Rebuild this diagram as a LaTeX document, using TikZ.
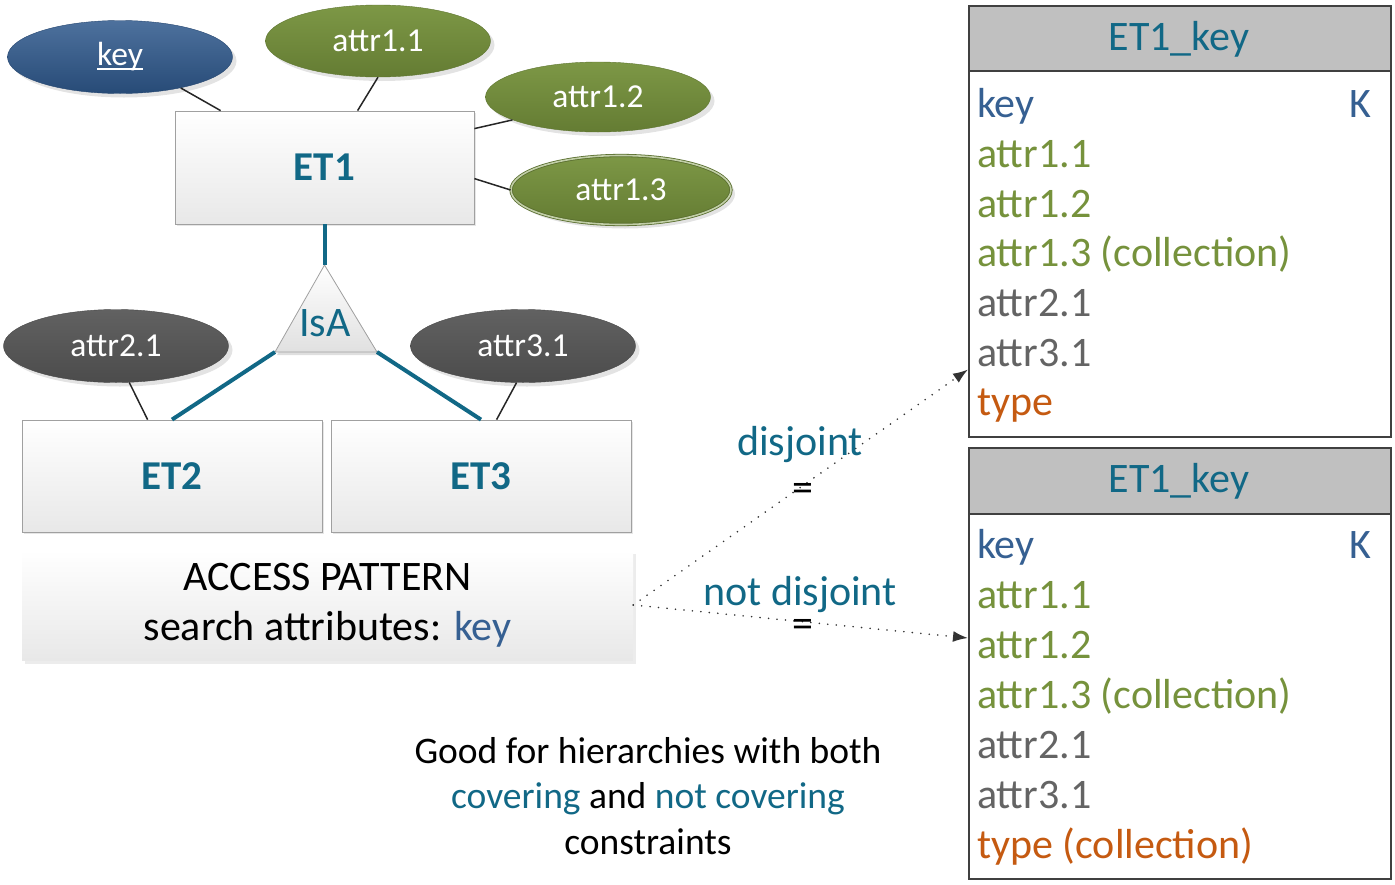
\documentclass[tikz,border=0pt]{standalone}
\usepackage{fontspec}
\setmainfont{Carlito}
\usetikzlibrary{shapes.geometric,shadows,arrows.meta,calc}
\definecolor{teal1}{RGB}{17,104,134}
\definecolor{keyblue}{RGB}{46,88,140}
\definecolor{txtblue}{RGB}{54,96,146}
\definecolor{olive1}{RGB}{118,146,60}
\definecolor{darkg}{RGB}{89,89,89}
\definecolor{txtgray}{RGB}{100,100,100}
\definecolor{orange1}{RGB}{197,90,17}
\definecolor{hdrgray}{RGB}{192,192,192}
\definecolor{boxline}{RGB}{160,160,160}
\newcommand\myul[1]{\setbox0\hbox{#1}\rlap{\rule[-4pt]{\wd0}{1.6pt}}\box0}
\begin{document}
\begin{tikzpicture}[x=1pt,y=-1pt,
  attr/.style={ellipse, inner sep=0pt, minimum width=225pt, minimum height=73pt,
    text=white, font=\fontsize{33.5}{40}\selectfont,
    drop shadow={shadow xshift=4pt,shadow yshift=-4pt,opacity=0.22}},
  keyattr/.style={attr, top color=keyblue!85!white, bottom color=keyblue!85!black, draw=keyblue!80!black},
  grnattr/.style={attr, top color=olive1!95!white, bottom color=olive1!85!black, draw=olive1!80!black},
  gryattr/.style={attr, top color=darkg!95!white, bottom color=darkg!85!black, draw=darkg!80!black},
  entity/.style={rectangle, draw=boxline, line width=0.8pt, top color=white, bottom color=black!9,
    text=teal1, font=\fontsize{41}{49}\selectfont\bfseries, inner sep=0pt,
    drop shadow={shadow xshift=2pt,shadow yshift=-2pt,opacity=0.2}},
  conn/.style={line width=1.5pt, black!85},
  isaline/.style={line width=4pt, teal1},
  dotarrow/.style={line width=1.8pt, black!80, dash pattern=on 0pt off 8.5pt, line cap=round,
    -{Latex[length=15pt,width=11pt]}},
  tbl/.style={rectangle, draw=black!75, line width=1.5pt, fill=white, inner sep=0pt, anchor=north west},
  hdr/.style={rectangle, draw=black!75, line width=1.5pt, fill=hdrgray, inner sep=0pt, anchor=north west},
  big/.style={font=\fontsize{42}{50}\selectfont},
  row/.style={big, anchor=base west, inner sep=0pt},
  eqsign/.style={big, inner sep=0pt, anchor=base, text height=11pt, text depth=0pt},
]
\useasboundingbox (0,0) rectangle (1395,884);

% ---------- ER diagram ----------
\node[entity, minimum width=299pt, minimum height=113pt] (ET1) at (324.5,167.5) {ET1};
\node[entity, minimum width=300pt, minimum height=112pt] (ET2) at (172,476) {ET2};
\node[entity, minimum width=300pt, minimum height=112pt] (ET3) at (481,476) {ET3};

\node[keyattr] (key) at (120,57) {\myul{key}};
\node[grnattr, minimum height=72pt] (a11) at (378,41) {attr1.1};
\node[grnattr, minimum height=70pt] (a12) at (598,97) {attr1.2};
\node[grnattr, minimum width=220pt, minimum height=69pt, draw=olive1!75!black, line width=0.8pt,
      double=olive1!45!white, double distance=1.6pt] (a13) at (621,190) {attr1.3};
\node[gryattr] (a21) at (116,346) {attr2.1};
\node[gryattr] (a31) at (523,346) {attr3.1};

\draw[conn] (key.-27) -- ([xshift=46pt]ET1.north west);
\draw[conn] (a11.south) -- ([xshift=183pt]ET1.north west);
\draw[conn] (a12.-165) -- ([yshift=-18pt]ET1.north east);
\draw[conn] (a13.west) -- ([yshift=-68pt]ET1.north east);
\draw[conn] (a21.-70) -- ([xshift=126pt]ET2.north west);
\draw[conn] (a31.-100) -- ([xshift=166pt]ET3.north west);

% IsA triangle
\coordinate (isaTop) at (324.5,265);
\coordinate (isaL) at (275,352);
\coordinate (isaR) at (377,352);
\fill[black!25, opacity=0.5] ([shift={(2pt,-3pt)}]isaTop) -- ([shift={(2pt,-3pt)}]isaL) -- ([shift={(2pt,-3pt)}]isaR) -- cycle;
\draw[boxline, line width=0.8pt, top color=white, bottom color=black!12] (isaTop) -- (isaL) -- (isaR) -- cycle;
\node[big, text=teal1] (isa) at (325,323) {IsA};
\draw[isaline] (ET1.south) -- (isaTop);
\draw[isaline] (isaL) -- (ET2.north);
\draw[isaline] (isaR) -- (ET3.north);

% access pattern
\node[rectangle, top color=white, bottom color=black!9, minimum width=611pt, minimum height=110pt,
      inner sep=0pt, align=center, big,
      drop shadow={shadow xshift=3pt,shadow yshift=-4pt,opacity=0.15}] (access) at (327.5,605)
      {ACCESS PATTERN\\search attributes: \textcolor{txtblue}{key}};

% ---------- tables ----------
\node[tbl, minimum width=422pt, minimum height=431pt] (t1) at (968,5) {};
\node[hdr, minimum width=422pt, minimum height=65pt] (h1) at (968,5) {};
\node[big, anchor=base, inner sep=0pt, text=teal1] (h1t) at (1179,50) {ET1\_key};
\node[row, text=txtblue] (r11) at (977,117) {key};
\node[big, anchor=base east, inner sep=0pt, text=txtblue] (r11k) at (1372,117) {K};
\node[row, text=olive1] (r12) at (977,167) {attr1.1};
\node[row, text=olive1] (r13) at (977,217) {attr1.2};
\node[row, text=olive1] (r14) at (977,266) {attr1.3 (collection)};
\node[row, text=txtgray] (r15) at (977,316) {attr2.1};
\node[row, text=txtgray] (r16) at (977,366) {attr3.1};
\node[row, text=orange1] (r17) at (977,415) {type};

\node[tbl, minimum width=422pt, minimum height=431pt] (t2) at (968,447) {};
\node[hdr, minimum width=422pt, minimum height=66pt] (h2) at (968,447) {};
\node[big, anchor=base, inner sep=0pt, text=teal1] (h2t) at (1179,492) {ET1\_key};
\node[row, text=txtblue] (r21) at (977,558) {key};
\node[big, anchor=base east, inner sep=0pt, text=txtblue] (r21k) at (1372,558) {K};
\node[row, text=olive1] (r22) at (977,608) {attr1.1};
\node[row, text=olive1] (r23) at (977,658) {attr1.2};
\node[row, text=olive1] (r24) at (977,708) {attr1.3 (collection)};
\node[row, text=txtgray] (r25) at (977,758) {attr2.1};
\node[row, text=txtgray] (r26) at (977,808) {attr3.1};
\node[row, text=orange1] (r27) at (977,858) {type (collection)};

% ---------- mapping arrows ----------
\draw[dotarrow] (access.east) -- ([yshift=68pt]t1.south west);
\draw[dotarrow] (access.east) -- ([yshift=-191pt]t2.north west);
\node[big, anchor=base, inner sep=0pt, text=teal1] (dj) at (800,455) {disjoint};
\node[eqsign] (dje) at (803,501) {=};
\node[big, anchor=base, inner sep=0pt, text=teal1] (ndj) at (800,605) {not disjoint};
\node[eqsign] (ndje) at (803,637) {=};

% ---------- note ----------
\node[align=center, inner sep=0pt, anchor=north, font=\fontsize{37.5}{45.5}\selectfont] (note) at (648,737)
  {Good for hierarchies with both\\ \textcolor{teal1}{covering} and \textcolor{teal1}{not covering}\\ constraints};
\end{tikzpicture}
\end{document}
